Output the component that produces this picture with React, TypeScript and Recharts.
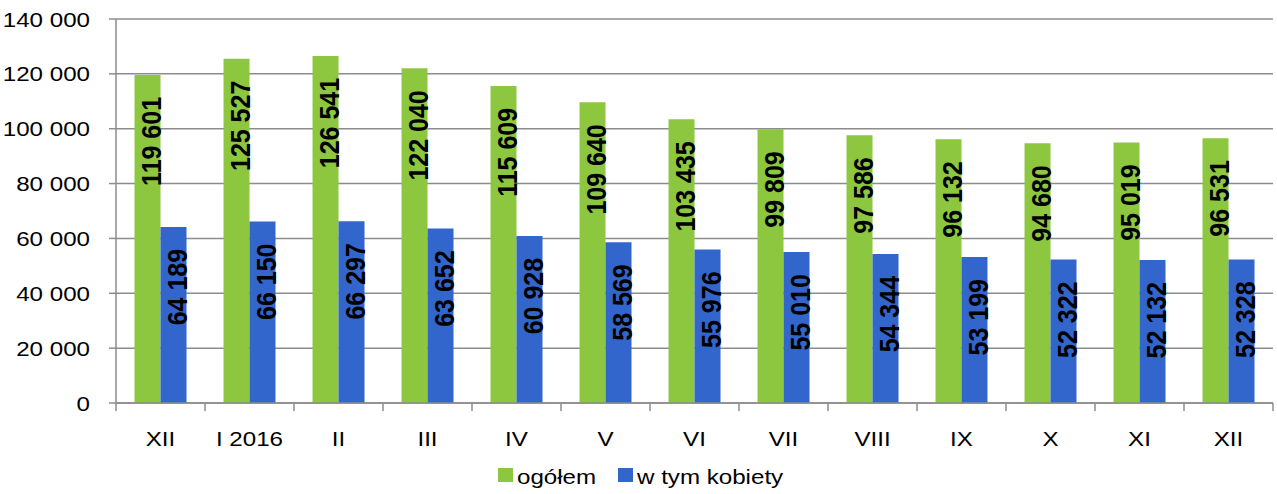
import { BarChart, Bar, XAxis, YAxis, CartesianGrid, Legend, LabelList } from 'recharts';

const months = ['XII', 'I 2016', 'II', 'III', 'IV', 'V', 'VI', 'VII', 'VIII', 'IX', 'X', 'XI', 'XII'];
const ogolem = [119601, 125527, 126541, 122040, 115609, 109640, 103435, 99809, 97586, 96132, 94680, 95019, 96531];
const kobiety = [64189, 66150, 66297, 63652, 60928, 58569, 55976, 55010, 54344, 53199, 52322, 52132, 52328];
const yTicks = [0, 20000, 40000, 60000, 80000, 100000, 120000, 140000];

const GREEN = '#8DC63F';
const BLUE = '#3366CC';
const GRID = '#8c8c8c';
const FONT = '"Liberation Sans", Arial, sans-serif';
const STRETCH = 1.15;

const W = 1277;
const H = 494;
const PLOT_LEFT = 116;
const PLOT_RIGHT = 4;
const BAND = (W - PLOT_LEFT - PLOT_RIGHT) / months.length;

const data = months.map((m, i) => ({ month: m, ogolem: ogolem[i], kobiety: kobiety[i] }));

const fmt = (v: number) => String(v).replace(/\B(?=(\d{3})+(?!\d))/g, ' ');

function YTick({ x, y, payload }: any) {
    return (
        <text
            transform={`translate(${x},${y}) scale(${STRETCH},1)`}
            textAnchor="end"
            dy="0.36em"
            fontSize={21}
            fontFamily={FONT}
            fill="#000"
        >
            {fmt(payload.value)}
        </text>
    );
}

function XTick({ x, y, payload, index }: any) {
    // tickSize 8, tickMargin 0 -> axis line sits 8px above y
    const axisY = y - 8;
    return (
        <g>
            <line x1={x - BAND / 2} x2={x - BAND / 2} y1={axisY} y2={axisY + 8} stroke={GRID} strokeWidth={1.5} />
            {index === months.length - 1 && (
                <line x1={x + BAND / 2} x2={x + BAND / 2} y1={axisY} y2={axisY + 8} stroke={GRID} strokeWidth={1.5} />
            )}
            <text
                transform={`translate(${x},${axisY + 43}) scale(${STRETCH},1)`}
                textAnchor="middle"
                fontSize={21}
                fontFamily={FONT}
                fill="#000"
            >
                {payload.value}
            </text>
        </g>
    );
}

function BarLabel(props: any) {
    const { x, y, width, value } = props;
    const ax = Number(x) + Number(width);
    const ay = Number(y) + 22;
    return (
        <text
            transform={`translate(${ax},${ay}) scale(1.13,1) rotate(-90)`}
            textAnchor="end"
            fontSize={25}
            fontWeight="bold"
            fontFamily={FONT}
            fill="#000"
        >
            {fmt(Number(value))}
        </text>
    );
}

function LegendBox() {
    const items = [
        { name: 'ogółem', color: GREEN, x: 498 },
        { name: 'w tym kobiety', color: BLUE, x: 618 },
    ];
    return (
        <svg width={W} height={35} style={{ display: 'block' }}>
            {items.map((it) => (
                <g key={it.name}>
                    <rect x={it.x} y={9} width={15} height={14} fill={it.color} />
                    <text
                        transform={`translate(${it.x + 19},25) scale(${STRETCH},1)`}
                        fontSize={21}
                        fontFamily={FONT}
                        fill="#000"
                    >
                        {it.name}
                    </text>
                </g>
            ))}
        </svg>
    );
}

export default function App() {
    return (
        <div style={{ position: 'absolute', left: 0, top: 0, width: W, height: H, background: '#fff' }}>
            <BarChart
                width={W}
                height={H}
                data={data}
                margin={{ top: 19, right: PLOT_RIGHT, left: 0, bottom: 0 }}
                barCategoryGap="20.8%"
                barGap={0}
            >
                <CartesianGrid vertical={false} stroke={GRID} strokeWidth={1.5} />
                <XAxis
                    dataKey="month"
                    height={56}
                    tickSize={8}
                    tickMargin={0}
                    tickLine={false}
                    axisLine={{ stroke: GRID, strokeWidth: 1.5 }}
                    tick={<XTick />}
                    interval={0}
                />
                <YAxis
                    width={PLOT_LEFT}
                    domain={[0, 140000]}
                    ticks={yTicks}
                    tickSize={7}
                    tickMargin={19}
                    tickLine={{ stroke: GRID, strokeWidth: 1.5 }}
                    axisLine={{ stroke: GRID, strokeWidth: 1.5 }}
                    tick={<YTick />}
                    interval={0}
                />
                <Legend verticalAlign="bottom" height={35} content={<LegendBox />} wrapperStyle={{ left: 0, width: W }} />
                <Bar dataKey="ogolem" name="ogółem" fill={GREEN} isAnimationActive={false}>
                    <LabelList dataKey="ogolem" content={<BarLabel />} />
                </Bar>
                <Bar dataKey="kobiety" name="w tym kobiety" fill={BLUE} isAnimationActive={false}>
                    <LabelList dataKey="kobiety" content={<BarLabel />} />
                </Bar>
            </BarChart>
        </div>
    );
}
